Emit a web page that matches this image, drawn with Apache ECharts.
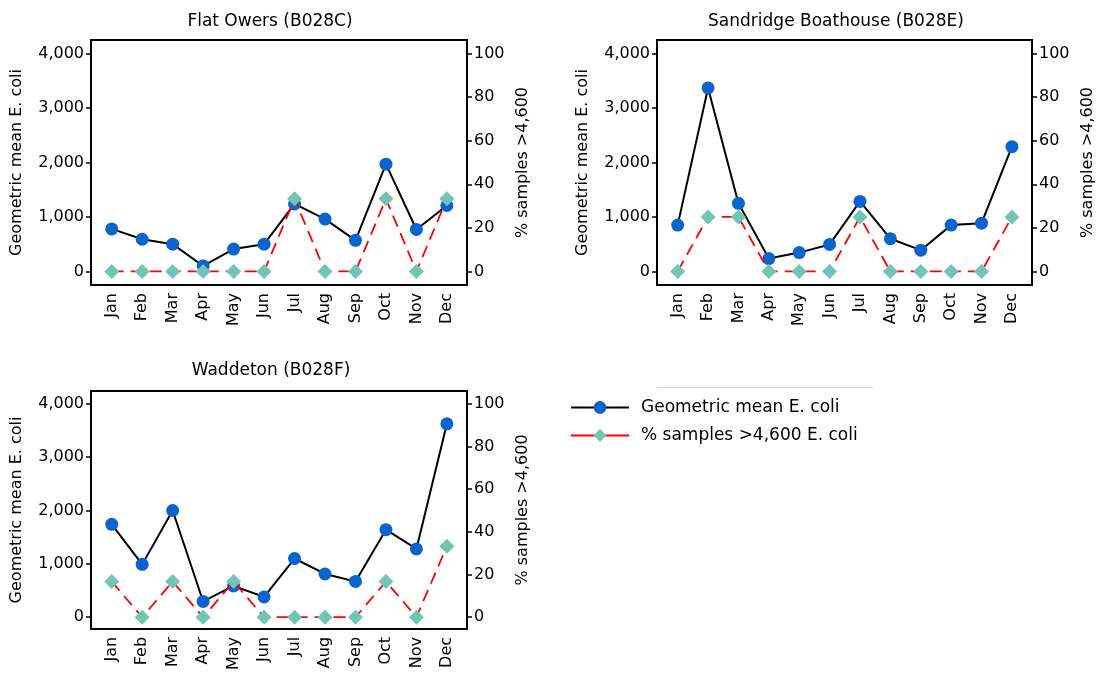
<!DOCTYPE html>
<html>
<head>
<meta charset="utf-8">
<script src="https://cdn.jsdelivr.net/npm/echarts@6/dist/echarts.min.js"></script>
<style>
  html, body { margin: 0; padding: 0; background: #fff; }
  #chart { width: 1097px; height: 673px; }
</style>
</head>
<body>
<div id="chart"></div>
<script>
// Monthly E. coli results for three monitoring points
const months = ['Jan', 'Feb', 'Mar', 'Apr', 'May', 'Jun', 'Jul', 'Aug', 'Sep', 'Oct', 'Nov', 'Dec'];

const flatOwersMean = [780, 590, 500, 100, 410, 500, 1240, 960, 570, 1970, 770, 1210];
const flatOwersPct  = [0, 0, 0, 0, 0, 0, 33.3, 0, 0, 33.3, 0, 33.3];

const sandridgeMean = [850, 3370, 1250, 235, 345, 495, 1285, 600, 390, 850, 885, 2290];
const sandridgePct  = [0, 25, 25, 0, 0, 0, 25, 0, 0, 0, 0, 25];

const waddetonMean = [1740, 990, 2000, 295, 585, 380, 1100, 810, 670, 1640, 1280, 3625];
const waddetonPct  = [16.7, 0, 16.7, 0, 16.7, 0, 0, 0, 0, 16.7, 0, 33.3];

const meanTicks = [0, 1000, 2000, 3000, 4000];
const pctTicks = [0, 20, 40, 60, 80, 100];

const panelTitles = ['Flat Owers (B028C)', 'Sandridge Boathouse (B028E)', 'Waddeton (B028F)'];
const meanName = 'Geometric mean E. coli';
const pctName = '% samples >4,600 E. coli';
const leftAxisName = 'Geometric mean E. coli';
const rightAxisName = '% samples >4,600';

const FONT = 'DejaVu Sans';
const INK = '#000';

const panels = [
  { grid: { left: 91, top: 40, width: 376, height: 245 }, range: [-250, 4250], mean: flatOwersMean, pct: flatOwersPct, title: [270, 22] },
  { grid: { left: 657, top: 40, width: 378, height: 245 }, range: [-250, 4250], mean: sandridgeMean, pct: sandridgePct, title: [836, 22] },
  { grid: { left: 91, top: 391, width: 376, height: 242 }, range: [-220, 4240], mean: waddetonMean, pct: waddetonPct, title: [271, 371] }
];

const grids = [], xAxes = [], yAxes = [], series = [], graphics = [];

panels.forEach((p, gi) => {
  grids.push(Object.assign({ show: true, borderColor: INK, borderWidth: 2, backgroundColor: 'transparent' }, p.grid));

  xAxes.push({
    type: 'value', gridIndex: gi, min: -0.68, max: 11.66,
    axisLine: { show: true, onZero: false, lineStyle: { color: INK, width: 2 } },
    axisTick: { show: false },
    splitLine: { show: false },
    axisLabel: {
      customValues: months.map((_, i) => i),
      formatter: v => months[Math.round(v)],
      rotate: 90, margin: 8, fontSize: 16, color: INK, fontFamily: FONT
    }
  });

  const common = {
    type: 'value', gridIndex: gi,
    splitLine: { show: false },
    axisLine: { show: true, onZero: false, lineStyle: { color: INK, width: 2 } },
    nameLocation: 'middle', nameRotate: 90,
    nameTextStyle: { fontSize: 16, color: INK, fontFamily: FONT }
  };

  yAxes.push(Object.assign({}, common, {
    position: 'left', min: p.range[0], max: p.range[1],
    name: leftAxisName, nameGap: 66,
    axisTick: { show: true, length: 5, customValues: meanTicks, lineStyle: { color: INK, width: 1.5 } },
    axisLabel: { customValues: meanTicks, formatter: v => v.toLocaleString('en-US'), margin: 7, fontSize: 16, color: INK, fontFamily: FONT }
  }));

  yAxes.push(Object.assign({}, common, {
    position: 'right', min: p.range[0] / 40, max: p.range[1] / 40,
    name: rightAxisName, nameGap: 48,
    axisTick: { show: true, length: 5, customValues: pctTicks, lineStyle: { color: INK, width: 1.5 } },
    axisLabel: { customValues: pctTicks, margin: 7, fontSize: 16, color: INK, fontFamily: FONT }
  }));

  series.push({
    name: meanName, type: 'line', xAxisIndex: gi, yAxisIndex: gi * 2,
    data: p.mean.map((v, i) => [i, v]),
    symbol: 'circle', symbolSize: 13,
    lineStyle: { color: INK, width: 2 },
    itemStyle: { color: '#0a63cf' },
    emphasis: { disabled: true }, z: 2
  });

  series.push({
    name: pctName, type: 'line', xAxisIndex: gi, yAxisIndex: gi * 2 + 1,
    data: p.pct.map((v, i) => [i, v]),
    symbol: 'diamond', symbolSize: 15,
    lineStyle: { color: '#f00', width: 1.8, type: [12, 7] },
    itemStyle: { color: '#72c4b5' },
    emphasis: { disabled: true }, z: 3
  });

  graphics.push({
    type: 'text', x: p.title[0], y: p.title[1],
    style: { text: panelTitles[gi], fill: INK, font: '17px "' + FONT + '"', textAlign: 'center', textVerticalAlign: 'middle' }
  });
});

// thin rule above the legend
graphics.push({
  type: 'line', shape: { x1: 657, y1: 387.5, x2: 873, y2: 387.5 },
  style: { stroke: '#d9d9d9', lineWidth: 1 }
});

const chart = echarts.init(document.getElementById('chart'), null, { renderer: 'canvas' });
chart.setOption({
  animation: false,
  backgroundColor: '#fff',
  grid: grids,
  xAxis: xAxes,
  yAxis: yAxes,
  series: series,
  graphic: graphics,
  legend: {
    orient: 'vertical', left: 565, top: 394,
    itemWidth: 58, itemHeight: 16, itemGap: 11,
    selectedMode: false,
    textStyle: { fontSize: 17, color: INK, fontFamily: FONT, padding: [0, 0, 0, 7] },
    data: [
      { name: meanName, lineStyle: { type: 'solid', color: INK, width: 2 } },
      { name: pctName, lineStyle: { type: 'solid', color: '#f00', width: 2 } }
    ]
  }
});
</script>
</body>
</html>
